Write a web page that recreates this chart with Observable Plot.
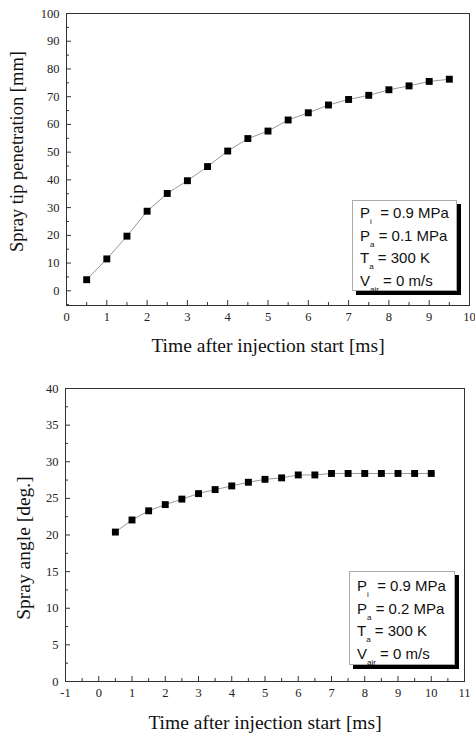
<!DOCTYPE html>
<html><head><meta charset="utf-8">
<script src="https://cdn.jsdelivr.net/npm/d3@7"></script>
<script src="https://cdn.jsdelivr.net/npm/@observablehq/plot@0.6"></script>
<style>
body{margin:0;background:#fff;}
.panel{position:relative;width:475px;}
.panel svg{display:block;overflow:visible;}
.legend{position:absolute;box-sizing:border-box;background:#fff;border:1px solid #aaa;box-shadow:4px 4px 0 #000;font-family:"Liberation Sans",Arial,sans-serif;font-size:15px;color:#111;padding-left:7px;}
.legend div{height:22.5px;line-height:22.5px;white-space:nowrap;}
.legend sub{font-size:8px;vertical-align:-6px;line-height:0;color:#111;}
</style>
</head><body>
<div class="panel" id="p1"></div>
<div class="panel" id="p2"></div>
<script>
// Top panel: spray tip penetration
const time1 = [0.5,1,1.5,2,2.5,3,3.5,4,4.5,5,5.5,6,6.5,7,7.5,8,8.5,9,9.5];
const penetration = [4.0,11.5,19.7,28.7,35.1,39.7,44.8,50.4,54.9,57.6,61.6,64.2,67.0,69.0,70.5,72.5,73.9,75.5,76.3];
// Bottom panel: spray angle
const time2 = [0.5,1,1.5,2,2.5,3,3.5,4,4.5,5,5.5,6,6.5,7,7.5,8,8.5,9,9.5,10];
const sprayAngle = [20.4,22.05,23.3,24.15,24.9,25.65,26.2,26.7,27.2,27.6,27.8,28.2,28.2,28.4,28.4,28.4,28.4,28.4,28.4,28.4];

const xTicks1 = [0,1,2,3,4,5,6,7,8,9,10];
const xMinor1 = [0.5,1.5,2.5,3.5,4.5,5.5,6.5,7.5,8.5,9.5];
const yTicks1 = [0,10,20,30,40,50,60,70,80,90,100];
const yMinor1 = [-5,5,15,25,35,45,55,65,75,85,95];
const xTicks2 = [-1,0,1,2,3,4,5,6,7,8,9,10,11];
const xMinor2 = [-0.5,0.5,1.5,2.5,3.5,4.5,5.5,6.5,7.5,8.5,9.5,10.5];
const yTicks2 = [0,5,10,15,20,25,30,35,40];
const yMinor2 = [2.5,7.5,12.5,17.5,22.5,27.5,32.5,37.5];

const legend1 = [["P","i","\u00a0 = 0.9 MPa"],["P","a"," = 0.1 MPa"],["T","a"," = 300 K"],["V","air"," = 0 m/s"]];
const legend2 = [["P","i","\u00a0 = 0.9 MPa"],["P","a"," = 0.2 MPa"],["T","a"," = 300 K"],["V","air"," = 0 m/s"]];

function panel({xs, ys, xDomain, yDomain, xT, xM, yT, yM, width, height, mL, mR, mT, mB, yLabel, yDx, yDy, yFs, xLabel, xDy}) {
  const innerW = width - mL - mR, innerH = height - mT - mB;
  const data = xs.map((x, i) => ({x, y: ys[i]}));
  return Plot.plot({
    width, height, marginLeft: mL, marginRight: mR, marginTop: mT, marginBottom: mB,
    style: {fontFamily: "'Liberation Serif', 'Times New Roman', serif", fontSize: "12.5px", color: "#222", background: "white", overflow: "visible"},
    x: {domain: xDomain},
    y: {domain: yDomain},
    marks: [
      Plot.frame({stroke: "#333", strokeWidth: 1}),
      Plot.tickX(xT, {x: d => d, insetTop: innerH - 5, stroke: "#333"}),
      Plot.tickX(xM, {x: d => d, insetTop: innerH - 3, stroke: "#333"}),
      Plot.tickY(yT, {y: d => d, insetRight: innerW - 5, stroke: "#333"}),
      Plot.tickY(yM, {y: d => d, insetRight: innerW - 3, stroke: "#333"}),
      Plot.axisX(xT, {tickSize: 0, tickPadding: 7, label: null, tickFormat: d => String(d), fontFamily: "'Liberation Serif', serif"}),
      Plot.axisY(yT, {tickSize: 0, tickPadding: 7, label: null, tickFormat: d => String(d), fontFamily: "'Liberation Serif', serif"}),
      Plot.line(data, {x: "x", y: "y", stroke: "#999", strokeWidth: 1}),
      Plot.dot(data, {x: "x", y: "y", symbol: "square", r: 3.9, fill: "#000", stroke: "none"}),
      Plot.text([xLabel], {frameAnchor: "bottom", dy: xDy, fontSize: 19.5, lineAnchor: "middle", textAnchor: "middle", fill: "#111"}),
      Plot.text([yLabel], {frameAnchor: "left", dx: yDx, dy: yDy, rotate: -90, fontSize: yFs, lineAnchor: "middle", textAnchor: "middle", fill: "#111"})
    ]
  });
}

function addLegend(container, items, box) {
  const d = document.createElement("div");
  d.className = "legend";
  d.style.left = box.left + "px"; d.style.top = box.top + "px";
  d.style.width = box.w + "px"; d.style.height = box.h + "px";
  d.style.paddingTop = box.pt + "px";
  items.forEach(([a, s, rest]) => {
    const line = document.createElement("div");
    line.append(a);
    const sub = document.createElement("sub"); sub.textContent = s;
    line.append(sub);
    line.append(rest);
    d.append(line);
  });
  container.append(d);
}

const p1 = document.getElementById("p1");
p1.append(panel({xs: time1, ys: penetration, xDomain: [0, 10], yDomain: [-5.3, 100],
  xT: xTicks1, xM: xMinor1, yT: yTicks1, yM: yMinor1,
  width: 475, height: 365, mL: 66, mR: 6, mT: 13, mB: 60,
  yLabel: "Spray tip penetration [mm]", yDx: -49, yDy: -8, yFs: 18.5,
  xLabel: "Time after injection start [ms]", xDy: 40}));
addLegend(p1, legend1, {left: 352, top: 200, w: 105, h: 91, pt: 1});

const p2 = document.getElementById("p2");
p2.append(panel({xs: time2, ys: sprayAngle, xDomain: [-1, 11], yDomain: [0, 40],
  xT: xTicks2, xM: xMinor2, yT: yTicks2, yM: yMinor2,
  width: 475, height: 368, mL: 65, mR: 11, mT: 23, mB: 52,
  yLabel: "Spray angle [deg.]", yDx: -42, yDy: 13, yFs: 19.5,
  xLabel: "Time after injection start [ms]", xDy: 41}));
addLegend(p2, legend2, {left: 349, top: 206, w: 106, h: 94, pt: 3});
</script>
</body></html>
